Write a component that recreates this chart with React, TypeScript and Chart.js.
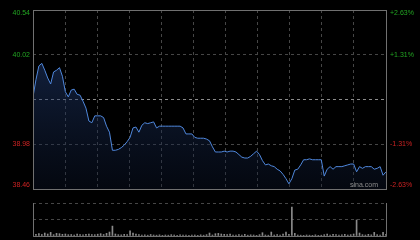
import React, { useEffect, useRef } from 'react';
import { Chart, registerables } from 'chart.js';

Chart.register(...registerables);

// ---- data ----
const prevClose = 39.5;
const priceMin = 38.46;
const priceMax = 40.54;
const priceTicks = [40.54, 40.02, 39.5, 38.98, 38.46];
const priceTickLabels = ['40.54', '40.02', '', '38.98', '38.46'];
const pctTickLabels = ['+2.63%', '+1.31%', '', '-1.31%', '-2.63%'];

const prices = [
  39.53, 39.73, 39.89, 39.92, 39.84, 39.75, 39.68, 39.82, 39.84, 39.87,
  39.77, 39.59, 39.53, 39.61, 39.62, 39.56, 39.55, 39.48, 39.40, 39.25,
  39.23, 39.31, 39.31, 39.31, 39.29, 39.19, 39.12, 38.91, 38.91, 38.92,
  38.94, 38.97, 39.01, 39.06, 39.17, 39.18, 39.12, 39.20, 39.23, 39.22,
  39.23, 39.24, 39.17, 39.19, 39.19, 39.19, 39.19, 39.19, 39.19, 39.19,
  39.19, 39.17, 39.10, 39.10, 39.10, 39.06, 39.05, 39.05, 39.05, 39.04,
  39.02, 38.95, 38.89, 38.89, 38.89, 38.90, 38.89, 38.90, 38.90, 38.89,
  38.86, 38.83, 38.82, 38.82, 38.84, 38.87, 38.90, 38.86, 38.79, 38.74,
  38.75, 38.73, 38.72, 38.69, 38.67, 38.63, 38.58, 38.52, 38.58, 38.68,
  38.69, 38.74, 38.80, 38.80, 38.81, 38.80, 38.80, 38.80, 38.80, 38.61,
  38.69, 38.72, 38.69, 38.72, 38.72, 38.72, 38.73, 38.74, 38.75, 38.75,
  38.66, 38.72, 38.70, 38.72, 38.72, 38.72, 38.69, 38.70, 38.72, 38.62,
  38.66,
];

const volumes = [
  60, 50, 70, 45, 90, 60, 110, 40, 80, 70, 50,
  60, 40, 45, 30, 55, 40, 35, 50, 60, 45,
  40, 55, 70, 45, 80, 120, 300, 60, 40, 35,
  50, 45, 160, 90, 60, 40, 30, 35, 25, 45,
  30, 25, 35, 20, 30, 25, 40, 30, 20, 35,
  25, 30, 20, 25, 30, 20, 35, 25, 40, 90,
  30, 70, 80, 60, 50, 45, 60, 30, 25, 40,
  30, 50, 25, 35, 30, 20, 40, 100, 30, 25,
  120, 30, 40, 25, 60, 120, 50, 880, 80, 30,
  25, 20, 30, 25, 20, 35, 20, 25, 40, 60,
  30, 50, 40, 25, 35, 50, 30, 40, 60, 485,
  90, 40, 30, 50, 35, 110, 40, 30, 110, 50,
];
const volumeMax = 1000;
const volumeTicks = [0, 500, 1000];

const sessionSlots = 120;
const timeGridDivisions = 11;
const watermark = 'sina.com';

// ---- styles ----
const GRID = '#464646';
const MID = '#8c8c8c';
const FRAME = '#707070';
const UP = '#22a522';
const DOWN = '#cc2222';
const LINE = '#4f87dc';
const BAR = '#8a8a8a';
const FONT = '7px "Liberation Sans", Arial, sans-serif';

const mainDecor = {
  id: 'mainDecor',
  afterDraw(chart: any) {
    const { ctx, chartArea: a } = chart;
    const ys = chart.scales.y;
    ctx.save();
    ctx.setLineDash([]);
    ctx.lineWidth = 1;
    ctx.strokeStyle = FRAME;
    ctx.strokeRect(a.left + 0.5, a.top + 0.5, a.right - a.left, a.bottom - a.top);
    ctx.font = FONT;
    priceTicks.forEach((v, i) => {
      const py = ys.getPixelForValue(v);
      let base: CanvasTextBaseline = 'middle';
      if (i === 0) base = 'top';
      else if (i === priceTicks.length - 1) base = 'bottom';
      ctx.textBaseline = base;
      ctx.fillStyle = v >= prevClose ? UP : DOWN;
      if (priceTickLabels[i]) {
        ctx.textAlign = 'right';
        ctx.fillText(priceTickLabels[i], a.left - 3, py);
      }
      if (pctTickLabels[i]) {
        ctx.textAlign = 'left';
        ctx.fillText(pctTickLabels[i], a.right + 4, py);
      }
    });
    ctx.fillStyle = '#8e8e8e';
    ctx.textAlign = 'right';
    ctx.textBaseline = 'bottom';
    ctx.fillText(watermark, a.right - 8, a.bottom);
    ctx.restore();
  },
};

const volDecor = {
  id: 'volDecor',
  afterDraw(chart: any) {
    const { ctx, chartArea: a } = chart;
    ctx.save();
    ctx.setLineDash([]);
    ctx.lineWidth = 1;
    ctx.strokeStyle = FRAME;
    ctx.beginPath();
    ctx.moveTo(a.left + 0.5, a.top);
    ctx.lineTo(a.left + 0.5, a.bottom + 0.5);
    ctx.lineTo(a.right + 0.5, a.bottom + 0.5);
    ctx.lineTo(a.right + 0.5, a.top);
    ctx.stroke();
    ctx.restore();
  },
};

const timeTicks = (scale: any) => {
  scale.ticks = Array.from({ length: timeGridDivisions + 1 }, (_, k) => ({
    value: (k * sessionSlots) / timeGridDivisions,
  }));
};

export default function App() {
  const mainRef = useRef<HTMLCanvasElement>(null);
  const volRef = useRef<HTMLCanvasElement>(null);

  useEffect(() => {
    const main = new Chart(mainRef.current as HTMLCanvasElement, {
      type: 'line',
      data: {
        datasets: [
          {
            data: prices.map((p, i) => ({ x: i, y: p })),
            borderColor: LINE,
            borderWidth: 1,
            pointRadius: 0,
            tension: 0,
            fill: 'start',
            backgroundColor: (c: any) => {
              const a = c.chart.chartArea;
              if (!a) return 'rgba(20,35,70,0.5)';
              const g = c.chart.ctx.createLinearGradient(0, a.top, 0, a.bottom);
              g.addColorStop(0, 'rgba(45,80,150,0.55)');
              g.addColorStop(1, 'rgba(12,22,45,0.35)');
              return g;
            },
          },
        ],
      },
      options: {
        animation: false,
        responsive: false,
        events: [],
        layout: { padding: { left: 33, right: 34, top: 10, bottom: 6 } },
        plugins: { legend: { display: false }, tooltip: { enabled: false } },
        scales: {
          x: {
            type: 'linear',
            min: 0,
            max: sessionSlots,
            ticks: { display: false },
            afterBuildTicks: timeTicks,
            afterFit: (s: any) => { s.height = 0; },
            grid: { color: GRID, drawTicks: false, lineWidth: 1 },
            border: { display: false, dash: [3, 3] },
          },
          y: {
            min: priceMin,
            max: priceMax,
            ticks: { display: false },
            afterBuildTicks: (s: any) => { s.ticks = priceTicks.map((v) => ({ value: v })); },
            afterFit: (s: any) => { s.width = 0; },
            grid: {
              color: (c: any) => (c.tick && c.tick.value === prevClose ? MID : GRID),
              drawTicks: false,
              lineWidth: 1,
            },
            border: { display: false, dash: [3, 3] },
          },
        },
      },
      plugins: [mainDecor],
    } as any);

    const vol = new Chart(volRef.current as HTMLCanvasElement, {
      type: 'bar',
      data: {
        datasets: [
          {
            data: volumes.map((v, i) => ({ x: i, y: v })),
            backgroundColor: BAR,
            barThickness: 1,
          },
        ],
      },
      options: {
        animation: false,
        responsive: false,
        events: [],
        layout: { padding: { left: 33, right: 34, top: 8, bottom: 4 } },
        plugins: { legend: { display: false }, tooltip: { enabled: false } },
        scales: {
          x: {
            type: 'linear',
            min: 0,
            max: sessionSlots,
            offset: false,
            ticks: { display: false },
            afterFit: (s: any) => { s.height = 0; },
            grid: { display: false },
            border: { display: false },
          },
          y: {
            min: 0,
            max: volumeMax,
            ticks: { display: false },
            afterBuildTicks: (s: any) => { s.ticks = volumeTicks.map((v) => ({ value: v })); },
            afterFit: (s: any) => { s.width = 0; },
            grid: { color: GRID, drawTicks: false, lineWidth: 1 },
            border: { display: false, dash: [3, 3] },
          },
        },
      },
      plugins: [volDecor],
    } as any);

    return () => {
      main.destroy();
      vol.destroy();
    };
  }, []);

  return (
    <div style={{ position: 'fixed', left: 0, top: 0, width: 420, height: 240, background: '#000' }}>
      <canvas ref={mainRef} width={420} height={195} style={{ position: 'absolute', left: 0, top: 0 }} />
      <canvas ref={volRef} width={420} height={45} style={{ position: 'absolute', left: 0, top: 195 }} />
    </div>
  );
}
